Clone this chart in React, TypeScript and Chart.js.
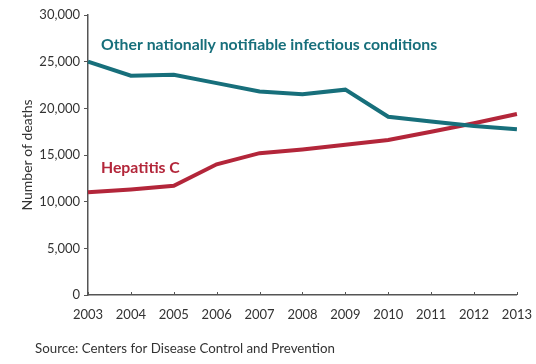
import React, { useEffect, useRef } from "react";
import { Chart, registerables } from "chart.js";

Chart.register(...registerables);

const years = ["2003", "2004", "2005", "2006", "2007", "2008", "2009", "2010", "2011", "2012", "2013"];
const otherConditions = [25000, 23500, 23600, 22700, 21800, 21500, 22000, 19100, 18600, 18100, 17750];
const hepatitisC = [11000, 11300, 11700, 14000, 15200, 15600, 16100, 16600, 17500, 18400, 19400];
const yTicks = [0, 5000, 10000, 15000, 20000, 25000, 30000];

const TEAL = "#176f7b";
const RED = "#b3263a";
const FONT = "Lato";

const annotations = {
  id: "annotations",
  afterDraw(chart: any) {
    const ctx = chart.ctx;
    const x = chart.scales.x;
    const y = chart.scales.y;
    ctx.save();
    ctx.strokeStyle = "#555";
    ctx.lineWidth = 1;
    years.forEach((_, i) => {
      const px = Math.round(x.getPixelForValue(i)) + 0.5;
      ctx.beginPath();
      ctx.moveTo(px, y.bottom);
      ctx.lineTo(px, y.bottom - 3);
      ctx.stroke();
    });
    ctx.textBaseline = "middle";
    ctx.textAlign = "left";
    ctx.font = `bold 15.8px ${FONT}`;
    ctx.fillStyle = TEAL;
    ctx.fillText("Other nationally notifiable infectious conditions", x.getPixelForValue(0) + 13, y.getPixelForValue(26800));
    ctx.fillStyle = RED;
    ctx.fillText("Hepatitis C", x.getPixelForValue(0) + 13, y.getPixelForValue(13600));
    ctx.font = `13.3px ${FONT}`;
    ctx.fillStyle = "#333";
    ctx.fillText("Source: Centers for Disease Control and Prevention", 35, 349);
    ctx.restore();
  },
};

export default function App() {
  const ref = useRef<HTMLCanvasElement>(null);
  useEffect(() => {
    const chart = new Chart(ref.current!, {
      type: "line",
      data: {
        labels: years,
        datasets: [
          {
            label: "Other nationally notifiable infectious conditions",
            data: otherConditions,
            borderColor: TEAL,
            borderWidth: 4,
            pointRadius: 0,
            tension: 0,
          },
          {
            label: "Hepatitis C",
            data: hepatitisC,
            borderColor: RED,
            borderWidth: 4,
            pointRadius: 0,
            tension: 0,
          },
        ],
      },
      plugins: [annotations],
      options: {
        animation: false,
        responsive: false,
        maintainAspectRatio: false,
        layout: { padding: { left: 0, right: 19, top: 15, bottom: 0 } },
        plugins: { legend: { display: false }, tooltip: { enabled: false } },
        scales: {
          x: {
            type: "category",
            offset: false,
            grid: { display: false, drawOnChartArea: false },
            border: { display: true, color: "#555", width: 1.5 },
            ticks: { color: "#333", font: { family: FONT, size: 13 }, padding: 4, maxRotation: 0 },
            afterFit: (s: any) => { s.height = 69; },
          },
          y: {
            min: 0,
            max: 30000,
            afterBuildTicks: (s: any) => { s.ticks = yTicks.map((v) => ({ value: v })); },
            grid: { drawOnChartArea: false, tickLength: 4, color: "#555" },
            border: { display: true, color: "#555", width: 1.5 },
            ticks: {
              color: "#333",
              font: { family: FONT, size: 13 },
              padding: 4,
              callback: (v: any) => Number(v).toLocaleString("en-US"),
            },
            title: {
              display: true,
              text: "Number of deaths",
              color: "#333",
              font: { family: FONT, size: 14 },
              padding: { top: 19, bottom: 0 },
            },
            afterFit: (s: any) => { s.width = 88; },
          },
        },
      },
    });
    return () => chart.destroy();
  }, []);
  return (
    <div style={{ position: "fixed", left: 0, top: 0, width: 536, height: 364, background: "#fff" }}>
      <canvas ref={ref} width={536} height={364} style={{ width: 536, height: 364 }} />
    </div>
  );
}
